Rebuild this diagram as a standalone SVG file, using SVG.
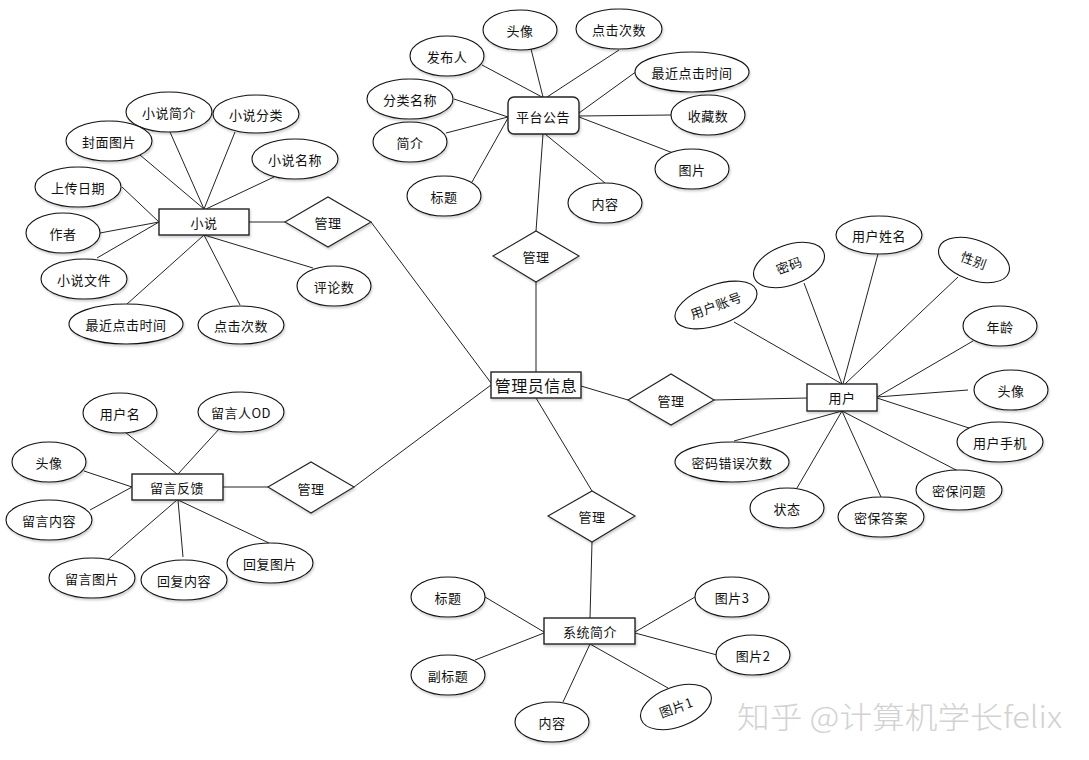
<svg xmlns="http://www.w3.org/2000/svg" width="1089" height="760" viewBox="0 0 1089 760">
<defs>
<filter id="sh" x="-20%" y="-20%" width="140%" height="150%">
<feDropShadow dx="1" dy="2" stdDeviation="1.2" flood-color="#000" flood-opacity="0.18"/>
</filter>
<style>
.c line{stroke:#222;stroke-width:1}
.e{fill:#fff;stroke:#111;stroke-width:1.1;filter:url(#sh)}
.e2{fill:#fff;stroke:#111;stroke-width:1.1}
.r{fill:#fff;stroke:#222;stroke-width:1.4;filter:url(#sh)}
.d{fill:#fff;stroke:#222;stroke-width:1.1;filter:url(#sh)}
text{font-family:"Noto Sans CJK SC","Liberation Sans",sans-serif;font-size:13px;fill:#111;text-anchor:middle;dominant-baseline:central;letter-spacing:0.5px}
.big{font-size:16px}
.wm{font-size:30px;fill:#d2d2d2;letter-spacing:0;text-anchor:start;dominant-baseline:alphabetic;font-weight:300}
</style>
</defs>
<rect width="1089" height="760" fill="#fff"/>
<g id="connectors" class="c">
<line x1="170" y1="132" x2="204" y2="209"/>
<line x1="235" y1="132" x2="204" y2="209"/>
<line x1="140" y1="155" x2="204" y2="209"/>
<line x1="274" y1="177" x2="206" y2="209"/>
<line x1="122" y1="187" x2="159" y2="222"/>
<line x1="100" y1="233" x2="159" y2="222"/>
<line x1="97" y1="258" x2="159" y2="222"/>
<line x1="127" y1="304" x2="204" y2="235"/>
<line x1="240" y1="305" x2="204" y2="235"/>
<line x1="313" y1="268" x2="204" y2="235"/>
<line x1="249" y1="222" x2="285" y2="222"/>
<line x1="371" y1="222" x2="491" y2="383"/>
<line x1="531" y1="49" x2="543" y2="97"/>
<line x1="619" y1="50" x2="547" y2="97"/>
<line x1="482" y1="65" x2="542" y2="97"/>
<line x1="637" y1="71" x2="579" y2="113"/>
<line x1="454" y1="99" x2="508" y2="117"/>
<line x1="671" y1="115" x2="579" y2="116"/>
<line x1="446" y1="133" x2="508" y2="117"/>
<line x1="673" y1="153" x2="579" y2="117"/>
<line x1="472" y1="182" x2="508" y2="118"/>
<line x1="605" y1="183" x2="545" y2="134"/>
<line x1="543" y1="134" x2="536" y2="231"/>
<line x1="536" y1="282" x2="536" y2="372"/>
<line x1="581" y1="386" x2="628" y2="400"/>
<line x1="714" y1="400" x2="807" y2="398"/>
<line x1="734" y1="322" x2="842" y2="384"/>
<line x1="804" y1="283" x2="842" y2="384"/>
<line x1="878" y1="254" x2="843" y2="384"/>
<line x1="958" y1="277" x2="845" y2="384"/>
<line x1="973" y1="341" x2="877" y2="397"/>
<line x1="968" y1="390" x2="877" y2="397"/>
<line x1="969" y1="428" x2="877" y2="398"/>
<line x1="958" y1="471" x2="842" y2="411"/>
<line x1="881" y1="497" x2="842" y2="411"/>
<line x1="797" y1="488" x2="842" y2="411"/>
<line x1="734" y1="441" x2="842" y2="411"/>
<line x1="536" y1="398" x2="592" y2="491"/>
<line x1="592" y1="542" x2="590" y2="618"/>
<line x1="485" y1="597" x2="544" y2="632"/>
<line x1="475" y1="660" x2="544" y2="633"/>
<line x1="563" y1="702" x2="590" y2="644"/>
<line x1="668" y1="688" x2="590" y2="644"/>
<line x1="717" y1="655" x2="635" y2="633"/>
<line x1="695" y1="597" x2="635" y2="632"/>
<line x1="354" y1="487" x2="491" y2="385"/>
<line x1="223" y1="487" x2="268" y2="487"/>
<line x1="125" y1="432" x2="177" y2="474"/>
<line x1="220" y1="428" x2="178" y2="474"/>
<line x1="84" y1="471" x2="132" y2="487"/>
<line x1="90" y1="510" x2="132" y2="487"/>
<line x1="104" y1="563" x2="177" y2="500"/>
<line x1="183" y1="557" x2="178" y2="500"/>
<line x1="269" y1="543" x2="178" y2="500"/>
</g>

<g id="admin"><rect class="r" x="491" y="372" width="90" height="26"/><text class="big" x="536" y="385">管理员信息</text></g>

<g id="novel"><rect class="r" x="159" y="209" width="90" height="26"/><text x="204" y="222">小说</text></g>
<g id="novel-intro"><ellipse class="e" cx="169" cy="112" rx="43" ry="20"/><text x="169" y="112">小说简介</text></g>
<g id="novel-cat"><ellipse class="e" cx="256" cy="114" rx="43" ry="19"/><text x="256" y="114">小说分类</text></g>
<g id="novel-cover"><ellipse class="e" cx="109" cy="141" rx="43" ry="20"/><text x="109" y="141">封面图片</text></g>
<g id="novel-name"><ellipse class="e" cx="295" cy="159" rx="43" ry="20"/><text x="295" y="159">小说名称</text></g>
<g id="novel-date"><ellipse class="e" cx="78" cy="187" rx="43" ry="20"/><text x="78" y="187">上传日期</text></g>
<g id="novel-author"><ellipse class="e" cx="63" cy="233" rx="37" ry="20"/><text x="63" y="233">作者</text></g>
<g id="novel-file"><ellipse class="e" cx="84" cy="279" rx="43" ry="20"/><text x="84" y="279">小说文件</text></g>
<g id="novel-last"><ellipse class="e" cx="126" cy="324" rx="57" ry="20"/><text x="126" y="324">最近点击时间</text></g>
<g id="novel-clicks"><ellipse class="e" cx="241" cy="325" rx="43" ry="19"/><text x="241" y="325">点击次数</text></g>
<g id="novel-comments"><ellipse class="e" cx="334" cy="286" rx="37" ry="20"/><text x="334" y="286">评论数</text></g>
<g id="rel-novel"><polygon class="d" points="285,222 328,197 371,222 328,247"/><text x="328" y="222">管理</text></g>

<g id="notice"><rect class="r" x="508" y="97" width="71" height="37" rx="6"/><text x="543" y="116">平台公告</text></g>
<g id="notice-avatar"><ellipse class="e" cx="520" cy="30" rx="37" ry="20"/><text x="520" y="30">头像</text></g>
<g id="notice-clicks"><ellipse class="e" cx="619" cy="29" rx="43" ry="20"/><text x="619" y="29">点击次数</text></g>
<g id="notice-publisher"><ellipse class="e" cx="447" cy="56" rx="37" ry="20"/><text x="447" y="56">发布人</text></g>
<g id="notice-last"><ellipse class="e" cx="692" cy="72" rx="57" ry="20"/><text x="692" y="72">最近点击时间</text></g>
<g id="notice-cat"><ellipse class="e" cx="410" cy="99" rx="43" ry="20"/><text x="410" y="99">分类名称</text></g>
<g id="notice-fav"><ellipse class="e" cx="708" cy="115" rx="37" ry="20"/><text x="708" y="115">收藏数</text></g>
<g id="notice-intro"><ellipse class="e" cx="410" cy="142" rx="37" ry="20"/><text x="410" y="142">简介</text></g>
<g id="notice-pic"><ellipse class="e" cx="692" cy="169" rx="37" ry="20"/><text x="692" y="169">图片</text></g>
<g id="notice-title"><ellipse class="e" cx="444" cy="196" rx="37" ry="20"/><text x="444" y="196">标题</text></g>
<g id="notice-content"><ellipse class="e" cx="605" cy="203" rx="37" ry="20"/><text x="605" y="203">内容</text></g>
<g id="rel-notice"><polygon class="d" points="493,256 536,231 579,256 536,282"/><text x="536" y="256">管理</text></g>

<g id="user"><rect class="r" x="807" y="384" width="70" height="27"/><text x="842" y="397">用户</text></g>
<g id="user-account" transform="rotate(-20 716 305)"><ellipse class="e2" cx="716" cy="305" rx="43" ry="20"/><text x="716" y="305">用户账号</text></g>
<g id="user-pwd" transform="rotate(-20 789 265)"><ellipse class="e2" cx="789" cy="265" rx="37" ry="20"/><text x="789" y="265">密码</text></g>
<g id="user-name"><ellipse class="e" cx="879" cy="235" rx="43" ry="19"/><text x="879" y="235">用户姓名</text></g>
<g id="user-sex" transform="rotate(20 974 260)"><ellipse class="e2" cx="974" cy="260" rx="37" ry="20"/><text x="974" y="260">性别</text></g>
<g id="user-age"><ellipse class="e" cx="1000" cy="326" rx="37" ry="20"/><text x="1000" y="326">年龄</text></g>
<g id="user-avatar"><ellipse class="e" cx="1011" cy="390" rx="37" ry="20"/><text x="1011" y="390">头像</text></g>
<g id="user-phone"><ellipse class="e" cx="1000" cy="442" rx="43" ry="20"/><text x="1000" y="442">用户手机</text></g>
<g id="user-question"><ellipse class="e" cx="959" cy="490" rx="43" ry="20"/><text x="959" y="490">密保问题</text></g>
<g id="user-answer"><ellipse class="e" cx="881" cy="517" rx="43" ry="20"/><text x="881" y="517">密保答案</text></g>
<g id="user-state"><ellipse class="e" cx="787" cy="508" rx="37" ry="20"/><text x="787" y="508">状态</text></g>
<g id="user-errors"><ellipse class="e" cx="732" cy="462" rx="57" ry="20"/><text x="732" y="462">密码错误次数</text></g>
<g id="rel-user"><polygon class="d" points="628,400 671,374 714,400 671,425"/><text x="671" y="400">管理</text></g>

<g id="system"><rect class="r" x="544" y="618" width="91" height="26"/><text x="590" y="631">系统简介</text></g>
<g id="rel-system"><polygon class="d" points="548,516 592,491 635,516 592,542"/><text x="592" y="516">管理</text></g>
<g id="sys-title"><ellipse class="e" cx="448" cy="597" rx="37" ry="20"/><text x="448" y="597">标题</text></g>
<g id="sys-subtitle"><ellipse class="e" cx="448" cy="675" rx="37" ry="20"/><text x="448" y="675">副标题</text></g>
<g id="sys-content"><ellipse class="e" cx="552" cy="722" rx="37" ry="20"/><text x="552" y="722">内容</text></g>
<g id="sys-pic1" transform="rotate(-20 676 707)"><ellipse class="e2" cx="676" cy="707" rx="37" ry="20"/><text x="676" y="707">图片1</text></g>
<g id="sys-pic2"><ellipse class="e" cx="753" cy="655" rx="37" ry="20"/><text x="753" y="655">图片2</text></g>
<g id="sys-pic3"><ellipse class="e" cx="732" cy="597" rx="37" ry="20"/><text x="732" y="597">图片3</text></g>

<g id="feedback"><rect class="r" x="132" y="474" width="91" height="26"/><text x="177" y="487">留言反馈</text></g>
<g id="rel-feedback"><polygon class="d" points="268,487 311,462 354,487 311,513"/><text x="311" y="488">管理</text></g>
<g id="fb-username"><ellipse class="e" cx="120" cy="413" rx="37" ry="20"/><text x="120" y="413">用户名</text></g>
<g id="fb-id"><ellipse class="e" cx="241" cy="412" rx="43" ry="20"/><text x="241" y="412">留言人OD</text></g>
<g id="fb-avatar"><ellipse class="e" cx="49" cy="462" rx="37" ry="20"/><text x="49" y="462">头像</text></g>
<g id="fb-content"><ellipse class="e" cx="49" cy="520" rx="43" ry="20"/><text x="49" y="520">留言内容</text></g>
<g id="fb-pic"><ellipse class="e" cx="92" cy="578" rx="43" ry="20"/><text x="92" y="578">留言图片</text></g>
<g id="fb-reply"><ellipse class="e" cx="184" cy="580" rx="43" ry="20"/><text x="184" y="580">回复内容</text></g>
<g id="fb-replypic"><ellipse class="e" cx="270" cy="563" rx="43" ry="20"/><text x="270" y="563">回复图片</text></g>

<text class="wm" x="737" y="728" textLength="325" lengthAdjust="spacingAndGlyphs">知乎 @计算机学长felix</text>
</svg>
